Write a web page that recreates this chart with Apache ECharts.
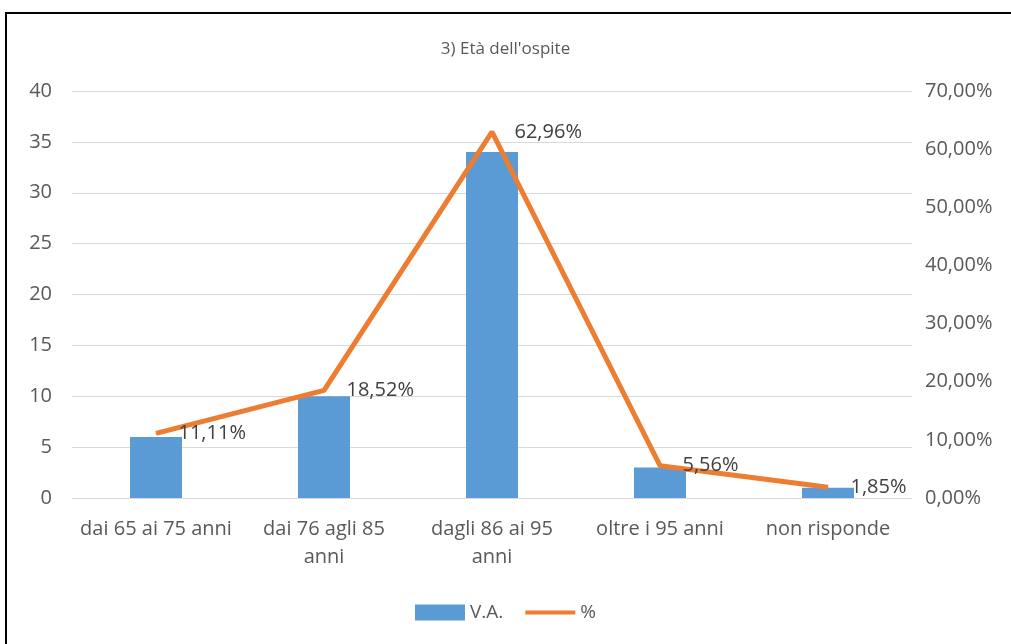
<!DOCTYPE html>
<html>
<head>
<meta charset="utf-8">
<script src="https://cdn.jsdelivr.net/npm/echarts@6/dist/echarts.min.js"></script>
<style>
  html, body { margin: 0; padding: 0; background: #fff; overflow: hidden; }
  #frame {
    position: absolute; left: 5px; top: 12px; width: 1020px; height: 650px;
    border: 2px solid #000; box-sizing: border-box;
  }
  #chart { position: absolute; left: 0; top: 0; width: 1011px; height: 644px; }
</style>
</head>
<body>
<div id="frame"></div>
<div id="chart"></div>
<script>
// dati del grafico
const categories = ['dai 65 ai 75 anni', 'dai 76 agli 85 anni', 'dagli 86 ai 95 anni', 'oltre i 95 anni', 'non risponde'];
const valoriAssoluti = [6, 10, 34, 3, 1];
const percentuali = [11.11, 18.52, 62.96, 5.56, 1.85];
const titolo = "3) Età dell'ospite";

const font = 'Open Sans';
const fmtPct = v => v.toFixed(2).replace('.', ',') + '%';

const chart = echarts.init(document.getElementById('chart'));
chart.setOption({
    animation: false,
    title: {
        text: titolo,
        left: 'center',
        top: 36,
        textStyle: { fontFamily: font, fontSize: 17, fontWeight: 'normal', color: '#595959' }
    },
    grid: { left: 72, right: 99, top: 91, bottom: 146 },
    legend: {
        bottom: 17,
        left: 'center',
        itemWidth: 50,
        itemHeight: 16,
        itemGap: 22,
        textStyle: { fontFamily: font, fontSize: 19, color: '#595959' },
        data: [
            { name: 'V.A.', icon: 'rect' },
            { name: '%', icon: 'path://M0,0 M50,16 M0,6L50,6L50,10L0,10Z' }
        ]
    },
    xAxis: {
        type: 'category',
        data: categories,
        axisLine: { lineStyle: { color: '#d9d9d9' } },
        axisTick: { show: false },
        axisLabel: {
            fontFamily: font, fontSize: 20, color: '#595959', margin: 17, lineHeight: 28,
            interval: 0,
            formatter: s => s.length > 17 ? s.replace(/ (\S+)$/, '\n$1') : s
        }
    },
    yAxis: [
        {
            type: 'value', min: 0, max: 40, interval: 5,
            axisLabel: { fontFamily: font, fontSize: 20, color: '#595959', margin: 20 },
            splitLine: { lineStyle: { color: '#d9d9d9' } }
        },
        {
            type: 'value', min: 0, max: 70, interval: 10,
            axisLabel: { fontFamily: font, fontSize: 20, color: '#595959', margin: 13, formatter: fmtPct },
            splitLine: { show: false }
        }
    ],
    series: [
        {
            name: 'V.A.',
            type: 'bar',
            data: valoriAssoluti,
            barWidth: 52,
            itemStyle: { color: '#5b9bd5' }
        },
        {
            name: '%',
            type: 'line',
            yAxisIndex: 1,
            data: percentuali,
            symbol: 'circle',
            symbolSize: 1,
            showSymbol: true,
            lineStyle: { color: '#ed7d31', width: 5 },
            itemStyle: { color: '#ed7d31' },
            label: {
                show: true,
                position: 'right',
                distance: 22,
                fontFamily: font, fontSize: 20, color: '#404040',
                formatter: p => fmtPct(p.value)
            }
        }
    ]
});
</script>
</body>
</html>
